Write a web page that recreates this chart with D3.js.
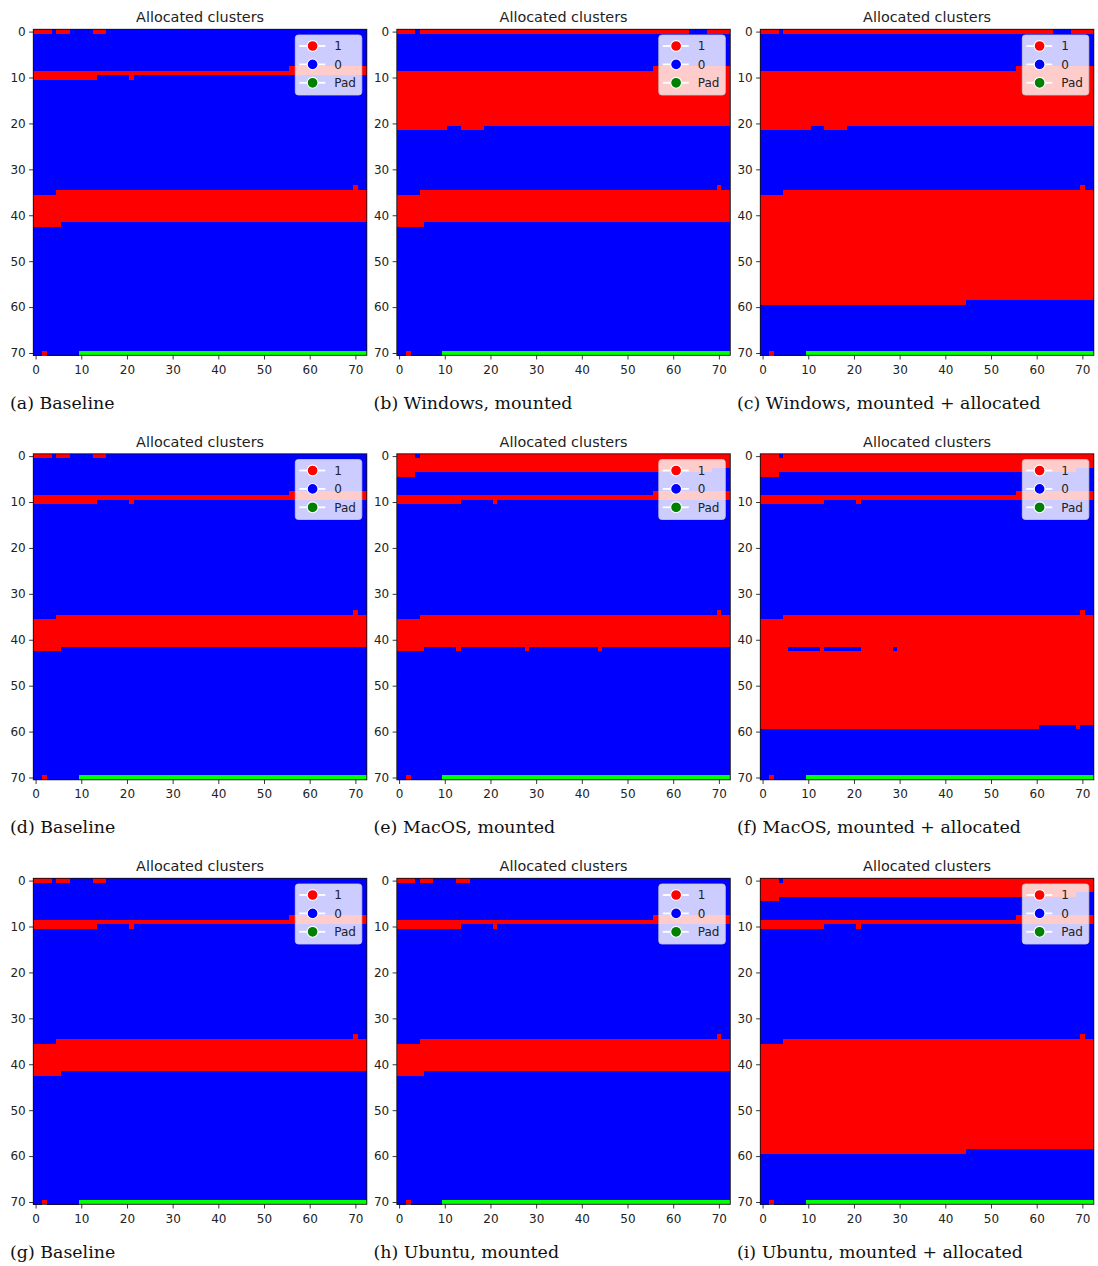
<!DOCTYPE html>
<html>
<head>
<meta charset="utf-8">
<script src="https://cdn.jsdelivr.net/npm/d3@7"></script>
<style>
  html, body { margin: 0; padding: 0; background: #ffffff; }
  svg { display: block; }
  .tick text { font-family: "DejaVu Sans", sans-serif; font-size: 12px; fill: #222; }
  .tick line { stroke: #222; stroke-width: 0.9; }
</style>
</head>
<body>
<svg id="fig" width="1098" height="1266"></svg>
<script>
// Cluster map geometry: clusters laid out row-major on a 73 x 71 grid,
// cells past the last cluster are padding.
const COLS = 73;
const ROWS = 71;
const CLUSTERS = 5120;

const xTicks = [0, 10, 20, 30, 40, 50, 60, 70];
const yTicks = [0, 10, 20, 30, 40, 50, 60, 70];

// Allocated runs per image: [startRow, startCol, endRow, endCol], inclusive, row-major.
const runsBaseline = [
  [0, 0, 0, 3], [0, 5, 0, 7], [0, 13, 0, 15],
  [8, 56, 10, 13], [10, 21, 10, 21],
  [34, 70, 34, 70], [35, 5, 42, 5],
  [70, 2, 70, 2]
];
const runsWindowsMounted = [
  [0, 0, 0, 3], [0, 5, 0, 63], [0, 68, 0, 72],
  [8, 56, 21, 10], [21, 14, 21, 18],
  [34, 70, 34, 70], [35, 5, 42, 5],
  [70, 2, 70, 2]
];
const runsWindowsAllocated = [
  [0, 0, 0, 3], [0, 5, 0, 63], [0, 68, 0, 72],
  [8, 56, 21, 10], [21, 14, 21, 18],
  [34, 70, 34, 70], [35, 5, 59, 44],
  [70, 2, 70, 2]
];
const runsMacMounted = [
  [0, 0, 0, 3], [0, 5, 3, 68], [4, 0, 4, 3],
  [8, 56, 10, 13], [10, 21, 10, 21],
  [34, 70, 34, 70], [35, 5, 42, 5],
  [42, 13, 42, 13], [42, 28, 42, 28], [42, 44, 42, 44],
  [70, 2, 70, 2]
];
const runsMacAllocated = [
  [0, 0, 0, 3], [0, 5, 3, 68], [4, 0, 4, 3],
  [8, 56, 10, 13], [10, 21, 10, 21],
  [34, 70, 34, 70], [35, 5, 42, 5],
  [42, 13, 42, 13], [42, 22, 42, 28], [42, 30, 59, 60], [59, 69, 59, 69],
  [70, 2, 70, 2]
];
const runsUbuntuMounted = runsBaseline;
const runsUbuntuAllocated = [
  [0, 0, 0, 3], [0, 5, 3, 68], [4, 0, 4, 3],
  [8, 56, 10, 13], [10, 21, 10, 21],
  [34, 70, 34, 70], [35, 5, 59, 44],
  [70, 2, 70, 2]
];

const panelRuns = [
  runsBaseline, runsWindowsMounted, runsWindowsAllocated,
  runsBaseline, runsMacMounted, runsMacAllocated,
  runsBaseline, runsUbuntuMounted, runsUbuntuAllocated
];
const captions = [
  "(a) Baseline", "(b) Windows, mounted", "(c) Windows, mounted + allocated",
  "(d) Baseline", "(e) MacOS, mounted", "(f) MacOS, mounted + allocated",
  "(g) Baseline", "(h) Ubuntu, mounted", "(i) Ubuntu, mounted + allocated"
];
const titleText = "Allocated clusters";

const legendLabels = ["1", "0", "Pad"];
const legendColors = ["#ff0000", "#0000ff", "#008000"];
// cell colour by state: 0 free, 1 allocated, 2 padding
const cellColors = ["#0000ff", "#ff0000", "#00ff00"];

// ---- layout ----
const axW = 333.5, axH = 326;
const colLeft = [33.3, 396.8, 760.3];
const rowTop = [29.3, 453.8, 878.3];

const svg = d3.select("#fig");

const x = d3.scaleLinear().domain([-0.5, COLS - 0.5]).range([0, axW]);
const y = d3.scaleLinear().domain([-0.5, ROWS - 0.5]).range([0, axH]);

function buildGrid(runs) {
  const grid = new Uint8Array(ROWS * COLS);
  for (let i = CLUSTERS; i < ROWS * COLS; i++) grid[i] = 2;
  runs.forEach(([r0, c0, r1, c1]) => {
    const a = r0 * COLS + c0, b = r1 * COLS + c1;
    for (let i = a; i <= b; i++) grid[i] = 1;
  });
  return grid;
}

// merge equal neighbouring cells of each row into horizontal segments
function rowSegments(grid) {
  const segs = [];
  for (let r = 0; r < ROWS; r++) {
    let start = 0;
    for (let c = 1; c <= COLS; c++) {
      if (c === COLS || grid[r * COLS + c] !== grid[r * COLS + start]) {
        segs.push({ row: r, c0: start, c1: c - 1, v: grid[r * COLS + start] });
        start = c;
      }
    }
  }
  return segs;
}

panelRuns.forEach((runs, p) => {
  const pc = p % 3, pr = Math.floor(p / 3);
  const g = svg.append("g").attr("transform", `translate(${colLeft[pc]},${rowTop[pr]})`);

  const segs = rowSegments(buildGrid(runs));
  // free cells first, then allocated and padding on top
  const ordered = segs.filter(s => s.v === 0).concat(segs.filter(s => s.v !== 0));
  g.append("g").selectAll("rect").data(ordered).join("rect")
    .attr("x", d => x(d.c0 - 0.5))
    .attr("y", d => y(d.row - 0.5))
    .attr("width", d => x(d.c1 + 0.5) - x(d.c0 - 0.5))
    .attr("height", d => y(d.row + 0.5) - y(d.row - 0.5) + (d.v === 0 ? 0.3 : 0))
    .attr("fill", d => cellColors[d.v])
    .attr("shape-rendering", "crispEdges");

  // axes
  const ax = g.append("g").attr("transform", `translate(0,${axH})`)
    .call(d3.axisBottom(x).tickValues(xTicks).tickSize(4.2).tickPadding(5.8));
  ax.select(".domain").remove();
  ax.selectAll(".tick text").attr("dy", "0.71em");
  const ay = g.append("g")
    .call(d3.axisLeft(y).tickValues(yTicks).tickSize(4.2).tickPadding(3.4));
  ay.select(".domain").remove();

  g.append("rect")
    .attr("x", 0).attr("y", 0).attr("width", axW).attr("height", axH)
    .attr("fill", "none").attr("stroke", "#111").attr("stroke-width", 0.9);

  g.append("text")
    .attr("x", axW / 2).attr("y", -7.3)
    .attr("text-anchor", "middle")
    .attr("font-family", "DejaVu Sans, sans-serif")
    .attr("font-size", 14.4)
    .attr("fill", "#222")
    .text(titleText);

  // legend
  const lgW = 66.5, lgH = 60;
  const lg = g.append("g").attr("transform", `translate(${axW - 5 - lgW},${5.7})`);
  lg.append("rect")
    .attr("width", lgW).attr("height", lgH).attr("rx", 3)
    .attr("fill", "#ffffff").attr("fill-opacity", 0.8)
    .attr("stroke", "#cccccc").attr("stroke-opacity", 0.8).attr("stroke-width", 1);
  const items = lg.selectAll("g.item").data(legendLabels).join("g")
    .attr("class", "item")
    .attr("transform", (d, i) => `translate(0,${11 + i * 18.4})`);
  items.append("line")
    .attr("x1", 4).attr("x2", 30).attr("y1", 0).attr("y2", 0)
    .attr("stroke", "#ffffff").attr("stroke-width", 1.8);
  items.append("circle")
    .attr("cx", 17.3).attr("cy", 0).attr("r", 5.4)
    .attr("fill", (d, i) => legendColors[i])
    .attr("stroke", "#ffffff").attr("stroke-width", 1.1);
  items.append("text")
    .attr("x", 39).attr("y", 4.3)
    .attr("font-family", "DejaVu Sans, sans-serif")
    .attr("font-size", 12)
    .attr("fill", "#222")
    .text(d => d);

  // caption
  g.append("text")
    .attr("x", -23.3).attr("y", 379.5)
    .attr("font-family", "DejaVu Serif, serif")
    .attr("font-size", 17.4)
    .attr("fill", "#111")
    .text(captions[p]);
});
</script>
</body>
</html>
